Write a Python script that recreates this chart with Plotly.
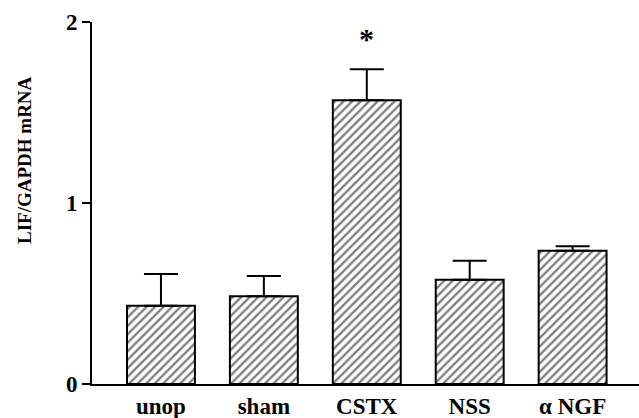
import plotly.graph_objects as go

categories = ["unop", "sham", "CSTX", "NSS", "α NGF"]
means = [0.433, 0.485, 1.567, 0.576, 0.736]
sem_plus = [0.175, 0.112, 0.172, 0.105, 0.025]
y_ticks = [0, 1, 2]
y_title = "LIF/GAPDH mRNA"
sig_label = "*"
sig_index = 2
sig_y = 1.91

FONT = "Liberation Serif"
L, T, B = 92, 22, 34
W, H = 639, 418
plot_w = W - L
plot_h = H - T - B

fig = go.Figure()
fig.add_trace(go.Bar(
    x=list(range(len(categories))),
    y=means,
    width=0.66,
    marker=dict(
        color="white",
        line=dict(color="black", width=2),
        pattern=dict(shape="/", size=6, solidity=0.4, fgcolor="black", bgcolor="white"),
    ),
    error_y=dict(type="data", symmetric=False, array=sem_plus,
                 arrayminus=[0] * len(means), color="black", thickness=2, width=17),
))

fig.add_annotation(x=sig_index, y=sig_y, text="<b>" + sig_label + "</b>", showarrow=False,
                   font=dict(family=FONT, size=30, color="black"), xanchor="center", yanchor="middle")

fig.add_annotation(x=(24 - L) / plot_w, y=(H - B - 160) / plot_h, xref="paper", yref="paper",
                   xanchor="center", yanchor="middle",
                   text="<b>" + y_title + "</b>", showarrow=False, textangle=-90,
                   font=dict(family=FONT, size=19, color="black"))

fig.update_layout(
    width=W, height=H,
    margin=dict(l=L, r=0, t=T, b=B, pad=0),
    paper_bgcolor="white", plot_bgcolor="white",
    showlegend=False,
)
fig.update_xaxes(
    range=[-0.67, 4.645], automargin=False,
    tickvals=list(range(len(categories))), ticktext=["<b>" + c + "</b>" for c in categories],
    tickfont=dict(family=FONT, size=23, color="black"),
    showline=True, linecolor="black", linewidth=2, ticks="", showgrid=False, zeroline=False,
)
fig.update_yaxes(
    range=[0, 2], automargin=False, tickvals=y_ticks, ticktext=["<b>%d</b>" % t for t in y_ticks],
    tickfont=dict(family=FONT, size=23, color="black"),
    showline=True, linecolor="black", linewidth=2, ticks="outside", ticklen=8, tickwidth=2,
    tickcolor="black", showgrid=False, zeroline=False,
)
fig.write_html("out.html", config={"displayModeBar": False},
               post_script="document.body.style.margin='0';document.body.style.overflow='hidden';")
